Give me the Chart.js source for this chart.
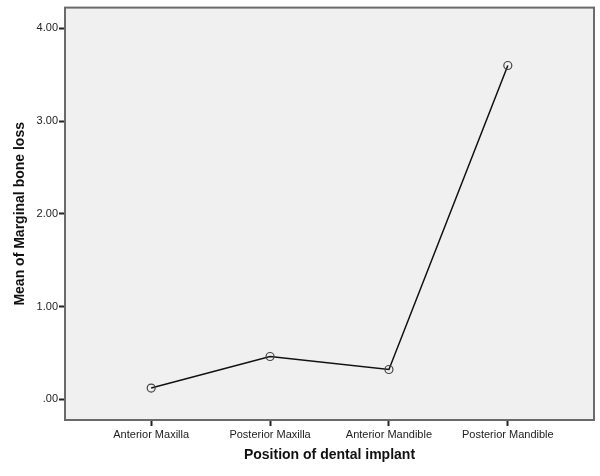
<!DOCTYPE html>
<html>
<head>
<meta charset="utf-8">
<script src="https://cdn.jsdelivr.net/npm/chart.js@4/dist/chart.umd.min.js"></script>
<style>
  html, body { margin: 0; padding: 0; background: #fff; }
  #wrap { width: 600px; height: 476px; }
</style>
</head>
<body>
<div id="wrap"><canvas id="lineChart" width="600" height="476"></canvas></div>
<script>
// data
const categories = ['Anterior Maxilla', 'Posterior Maxilla', 'Anterior Mandible', 'Posterior Mandible'];
const meanLoss = [0.12, 0.46, 0.32, 3.60];
const yTicks = [0, 1, 2, 3, 4];

const ctx = document.getElementById('lineChart').getContext('2d');

// gray plot background + box round the plot area
const plotBox = {
    id: 'plotBox',
    beforeDraw: chart => {
        const a = chart.chartArea;
        const c = chart.ctx;
        c.save();
        c.fillStyle = '#f0f0f0';
        c.fillRect(a.left, a.top, a.right - a.left, a.bottom - a.top);
        c.restore();
    },
    afterDraw: chart => {
        const a = chart.chartArea;
        const c = chart.ctx;
        c.save();
        c.strokeStyle = '#6a6a6a';
        c.lineWidth = 2;
        c.strokeRect(a.left, a.top, a.right - a.left, a.bottom - a.top);
        c.restore();
    }
};

new Chart(ctx, {
    type: 'line',
    data: {
        datasets: [{
            data: meanLoss.map((v, i) => ({ x: i, y: v })),
            borderColor: '#111',
            borderWidth: 1.5,
            pointRadius: 4,
            pointBorderColor: '#444',
            pointBorderWidth: 1.2,
            pointBackgroundColor: 'rgba(0,0,0,0)',
            tension: 0
        }]
    },
    options: {
        responsive: false,
        animation: false,
        layout: { padding: { top: 5, right: 6, left: 0, bottom: 0 } },
        plugins: {
            legend: { display: false },
            tooltip: { enabled: false }
        },
        scales: {
            x: {
                type: 'linear',
                min: -0.725,
                max: categories.length - 1 + 0.725,
                afterBuildTicks: s => { s.ticks = categories.map((c, i) => ({ value: i })); },
                afterFit: s => { s.height = 56; },
                grid: { drawOnChartArea: false, drawTicks: true, tickLength: 6, tickColor: '#222', tickWidth: 2 },
                border: { display: false },
                ticks: {
                    autoSkip: false,
                    maxRotation: 0,
                    padding: 2,
                    color: '#222',
                    font: { family: 'Liberation Sans', size: 11 },
                    callback: v => categories[v]
                },
                title: {
                    display: true,
                    text: 'Position of dental implant',
                    color: '#111',
                    font: { family: 'Liberation Sans', size: 14, weight: 'bold' },
                    padding: { top: 0, bottom: 12 }
                }
            },
            y: {
                min: -0.225,
                max: 4.225,
                afterBuildTicks: s => { s.ticks = yTicks.map(v => ({ value: v })); },
                afterFit: s => { s.width = 65; },
                grid: { drawOnChartArea: false, drawTicks: true, tickLength: 6, tickColor: '#222', tickWidth: 2 },
                border: { display: false },
                ticks: {
                    padding: 1,
                    color: '#222',
                    font: { family: 'Liberation Sans', size: 11 },
                    callback: v => v === 0 ? '.00' : v.toFixed(2)
                },
                title: {
                    display: true,
                    text: 'Mean of Marginal bone loss',
                    color: '#111',
                    font: { family: 'Liberation Sans', size: 14, weight: 'bold' },
                    padding: { top: 12, bottom: 0 }
                }
            }
        }
    },
    plugins: [plotBox]
});
</script>
</body>
</html>
